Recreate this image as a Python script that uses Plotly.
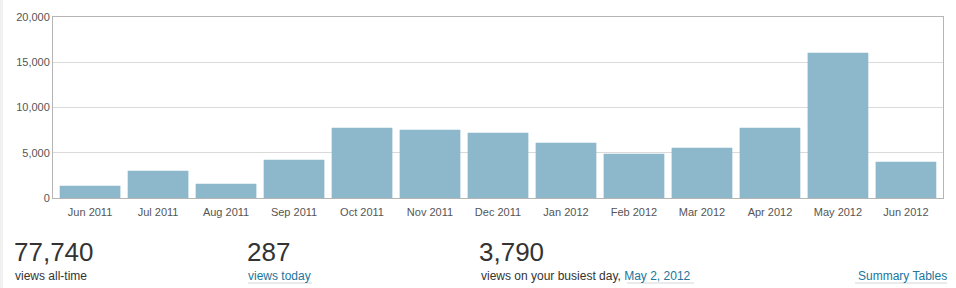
import plotly.graph_objects as go

months = ["Jun 2011", "Jul 2011", "Aug 2011", "Sep 2011", "Oct 2011", "Nov 2011",
          "Dec 2011", "Jan 2012", "Feb 2012", "Mar 2012", "Apr 2012", "May 2012", "Jun 2012"]
views = [1360, 3020, 1580, 4230, 7770, 7550, 7220, 6110, 4900, 5560, 7770, 16060, 4010]
y_ticks = [0, 5000, 10000, 15000, 20000]
y_tick_labels = ["0", "5,000", "10,000", "15,000", "20,000"]

W, H = 956, 288
L, R, T, B = 53, 13, 17, 90
PW, PH = W - L - R, H - T - B

def px(x):
    return (x - L) / PW

def py(y):
    return (H - B - y) / PH

FONT = "Liberation Sans, Arial, Helvetica, sans-serif"
DARK = "#333333"
BLUE = "#21759b"

fig = go.Figure(go.Bar(
    x=list(range(len(months))), y=views,
    marker=dict(color="#8db8cb", line=dict(width=0)),
    hoverinfo="skip",
))

fig.update_layout(
    width=W, height=H,
    margin=dict(l=L, r=R, t=T, b=B),
    paper_bgcolor="white", plot_bgcolor="white",
    bargap=0.107, showlegend=False,
    font=dict(family=FONT, size=11, color="#555555"),
    xaxis=dict(
        tickmode="array", tickvals=list(range(len(months))), ticktext=months,
        range=[-0.545, len(months) - 1 + 0.545],
        showgrid=False, zeroline=False,
        showline=True, mirror=True, linecolor="#b5b5b5", linewidth=1,
        ticks="outside", ticklen=4, tickcolor="rgba(0,0,0,0)",
        tickfont=dict(size=11, color="#555555"),
    ),
    yaxis=dict(
        range=[0, 20000], tickmode="array", tickvals=y_ticks, ticktext=y_tick_labels,
        showgrid=True, gridcolor="#dadada", gridwidth=1, zeroline=False,
        showline=True, mirror=True, linecolor="#b5b5b5", linewidth=1,
        ticks="", tickfont=dict(size=11, color="#555555"),
    ),
)

shapes = [
    dict(type="rect", xref="paper", yref="paper", x0=px(0), x1=px(3), y0=py(H), y1=py(0),
         fillcolor="#f1f1f1", line=dict(width=0), layer="below"),
    dict(type="line", xref="paper", yref="paper", x0=px(248), x1=px(312), y0=py(283), y1=py(283),
         line=dict(color="#d6d6d6", width=1)),
    dict(type="line", xref="paper", yref="paper", x0=px(627), x1=px(694), y0=py(283), y1=py(283),
         line=dict(color="#d6d6d6", width=1)),
    dict(type="line", xref="paper", yref="paper", x0=px(855), x1=px(947), y0=py(283), y1=py(283),
         line=dict(color="#d6d6d6", width=1)),
]
fig.update_layout(shapes=shapes)

ann = []
def add(text, x, y, size, color, xanchor="left", yanchor="middle"):
    ann.append(dict(text=text, x=px(x), y=py(y), xref="paper", yref="paper",
                    xanchor=xanchor, yanchor=yanchor, showarrow=False, borderpad=0,
                    font=dict(family=FONT, size=size, color=color)))

add("77,740", 13, 268, 26, DARK, yanchor="bottom")
add("views all-time", 14, 268, 12, DARK, yanchor="top")
add("287", 246, 268, 26, DARK, yanchor="bottom")
add("views today", 247, 268, 12, BLUE, yanchor="top")
add("3,790", 478, 268, 26, DARK, yanchor="bottom")
add("views on your busiest day, <span style='color:%s'>May 2, 2012</span>" % BLUE, 480, 268, 12, DARK, yanchor="top")
add("Summary Tables", 948, 268, 12, BLUE, xanchor="right", yanchor="top")
fig.update_layout(annotations=ann)

fig.write_html("out.html")
